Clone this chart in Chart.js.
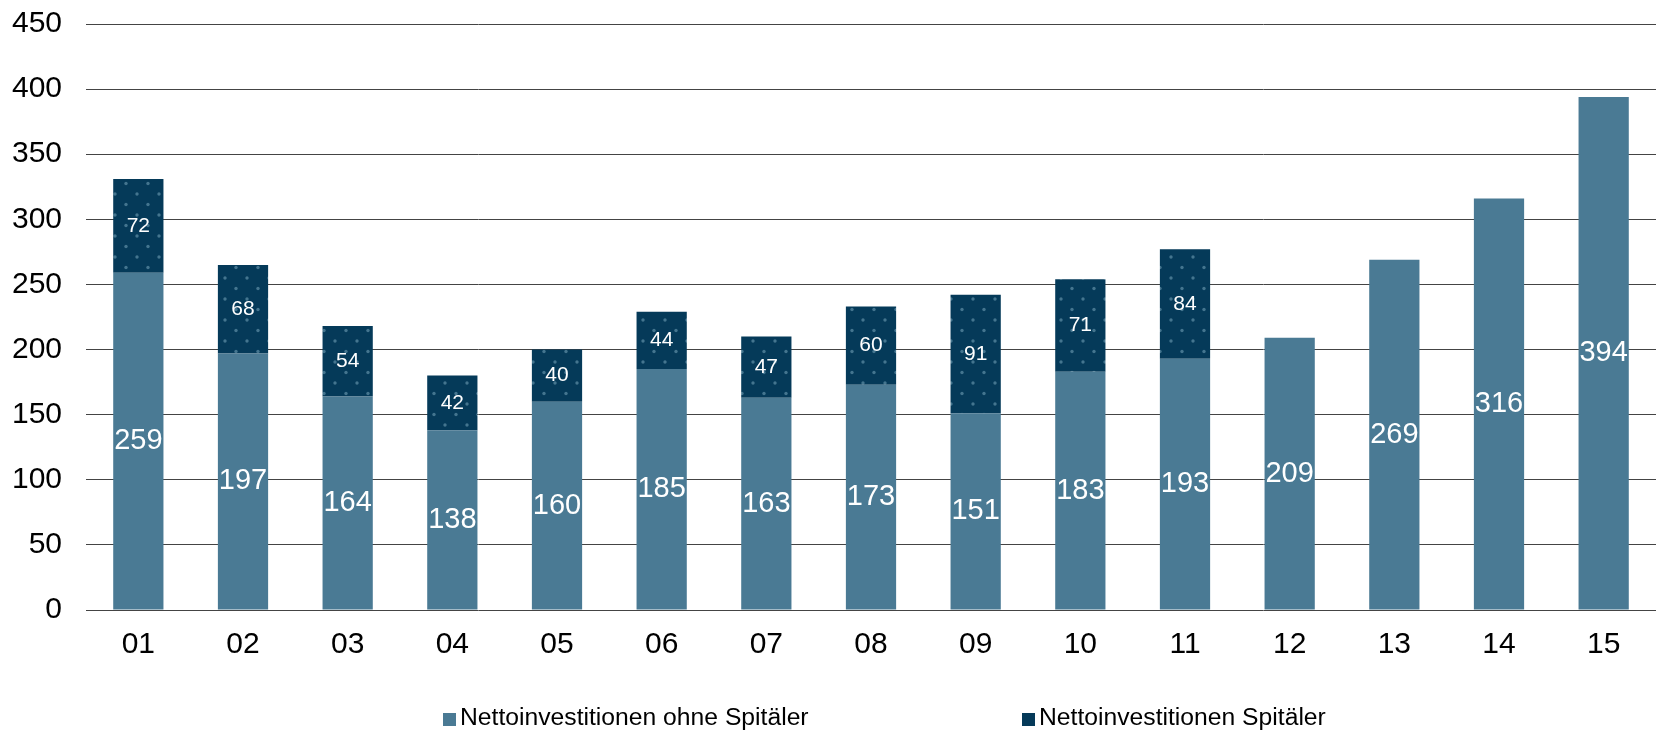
<!DOCTYPE html>
<html>
<head>
<meta charset="utf-8">
<script src="https://cdn.jsdelivr.net/npm/chart.js@4.4.0/dist/chart.umd.min.js"></script>
<style>
    body { margin: 0; background: #fff; }
    #wrap { position: relative; width: 1661px; height: 731px; }
    .legend-item {
        position: absolute; top: 703px; height: 28px; line-height: 28px;
        font-family: "Liberation Sans", Arial, sans-serif; font-size: 24.7px; color: #000;
        white-space: nowrap;
    }
    .legend-item i {
        display: inline-block; width: 13px; height: 13px; margin-right: 4px; vertical-align: -1px;
    }
</style>
</head>
<body>
<div id="wrap">
    <canvas id="chart" width="1661" height="731"></canvas>
    <div class="legend-item" style="left:443px"><i style="background:#4a7a94"></i>Nettoinvestitionen ohne Spitäler</div>
    <div class="legend-item" style="left:1022px"><i style="background:#053a59"></i>Nettoinvestitionen Spitäler</div>
</div>
<script>
// Daten
const categories = ['01', '02', '03', '04', '05', '06', '07', '08', '09', '10', '11', '12', '13', '14', '15'];
const ohneSpitaeler = [259, 197, 164, 138, 160, 185, 163, 173, 151, 183, 193, 209, 269, 316, 394];
const spitaeler = [72, 68, 54, 42, 40, 44, 47, 60, 91, 71, 84, null, null, null, null];
const yTicks = [0, 50, 100, 150, 200, 250, 300, 350, 400, 450];

const FONT = '"Liberation Sans", Arial, sans-serif';

// Punktmuster für die Spitäler-Balken
function makeDotPattern() {
    const tile = document.createElement('canvas');
    tile.width = 22;
    tile.height = 21;
    const c = tile.getContext('2d');
    c.fillStyle = '#053a59';
    c.fillRect(0, 0, 22, 21);
    c.fillStyle = '#44758f';
    [[5, 5], [16, 15.5]].forEach(([px, py]) => {
        c.beginPath();
        c.arc(px, py, 1.7, 0, Math.PI * 2);
        c.fill();
    });
    return c.createPattern(tile, 'repeat');
}

// Werte mittig in die Balken schreiben
const barLabels = {
    id: 'barLabels',
    afterDatasetsDraw(chart) {
        const ctx = chart.ctx;
        ctx.save();
        ctx.fillStyle = '#fff';
        ctx.textAlign = 'center';
        ctx.textBaseline = 'middle';
        chart.data.datasets.forEach((ds, i) => {
            const meta = chart.getDatasetMeta(i);
            ctx.font = (i === 0 ? '29px ' : '21px ') + FONT;
            meta.data.forEach((bar, j) => {
                const v = ds.data[j];
                if (v === null || v === undefined) return;
                const p = bar.getProps(['x', 'y', 'base'], true);
                ctx.fillText(String(v), p.x, (p.y + p.base) / 2);
            });
        });
        ctx.restore();
    }
};

const ctx = document.getElementById('chart').getContext('2d');
new Chart(ctx, {
    type: 'bar',
    data: {
        labels: categories,
        datasets: [{
            label: 'Nettoinvestitionen ohne Spitäler',
            data: ohneSpitaeler,
            backgroundColor: '#4a7a94',
            borderWidth: 0,
            barPercentage: 0.48,
            categoryPercentage: 1
        }, {
            label: 'Nettoinvestitionen Spitäler',
            data: spitaeler,
            backgroundColor: makeDotPattern(),
            borderWidth: 0,
            barPercentage: 0.48,
            categoryPercentage: 1
        }]
    },
    options: {
        responsive: false,
        animation: false,
        devicePixelRatio: 1,
        layout: { padding: { top: 24, right: 5, left: 0, bottom: 0 } },
        plugins: {
            legend: { display: false },
            tooltip: { enabled: false }
        },
        scales: {
            x: {
                stacked: true,
                grid: { display: false, drawTicks: false },
                border: { display: false },
                ticks: { color: '#000', font: { family: FONT, size: 30 }, padding: 17, maxRotation: 0 },
                afterFit(scale) { scale.height = 121; }
            },
            y: {
                stacked: true,
                min: 0,
                max: 450,
                afterBuildTicks(scale) { scale.ticks = yTicks.map(v => ({ value: v })); },
                // unsichtbare Tick-Striche als Abstand zwischen Beschriftung und Gitter
                grid: { color: '#444', lineWidth: 1, drawTicks: true, tickLength: 22, tickColor: 'rgba(0,0,0,0)' },
                border: { display: false },
                ticks: { color: '#000', font: { family: FONT, size: 30 }, padding: 2 },
                afterFit(scale) { scale.width = 86; }
            }
        }
    },
    plugins: [barLabels]
});
</script>
</body>
</html>
